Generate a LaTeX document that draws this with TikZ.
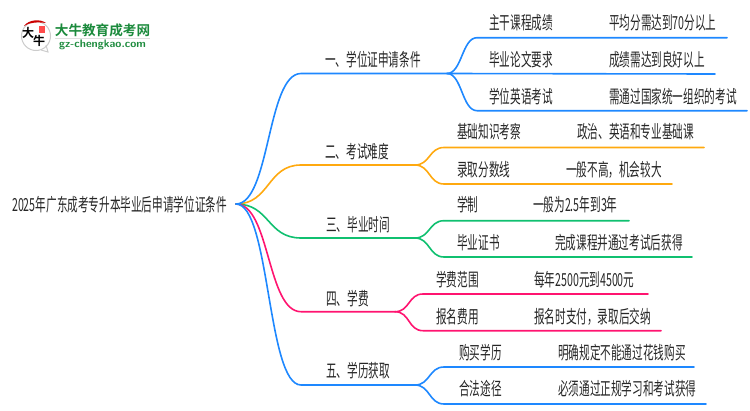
\documentclass[tikz,border=0pt]{standalone}
\usepackage{fontspec}
\setmainfont[FakeStretch=0.59]{Noto Sans CJK SC}
\newfontfamily\logofont{Noto Sans CJK SC Bold}
\newfontfamily\inkfont{Noto Sans CJK SC Bold}
\definecolor{mapblue}{HTML}{1E88FF}
\definecolor{maporange}{HTML}{FFA90F}
\definecolor{mapgreen}{HTML}{10C070}
\definecolor{mappink}{HTML}{FF1470}
\definecolor{logogreen}{HTML}{1B8A3C}
\tikzset{
  txt/.style={anchor=west,inner sep=0pt,text height=15.6pt,text depth=2pt,font=\fontsize{18}{19}\selectfont,text=black!85},
  curve/.style={to path={.. controls +(#1,0) and +(-#1,0) .. (\tikztotarget)}},
  line/.style={line width=1.6pt,line cap=round}
}
\begin{document}
\begin{tikzpicture}[x=1pt,y=-1pt]
  \useasboundingbox (0,0) rectangle (750,410);
  % logo
  \draw[black!20,line width=1pt,fill=white] (36,36) circle (14.5);
  \draw[black!20,line width=1pt] (41,50) -- (48,52) -- (46,45);
  \fill[red!80!black] (24,26) .. controls (29,19) and (41,19) .. (46,23) .. controls (38,22) and (30,22) .. (24,26);
  \fill[red!70] (39,26) rectangle (45,33);
  \node[inner sep=0pt,font=\inkfont\fontsize{12}{12}\selectfont] (logoa) at (28,33) {大};
  \node[inner sep=0pt,font=\inkfont\fontsize{12}{12}\selectfont] (logob) at (39,41) {牛};
  \node[inner sep=0pt,font=\logofont\fontsize{13.6}{14}\selectfont,text=logogreen] (logoc) at (102.5,30) {大牛教育成考网};
  \node[inner sep=0pt,font=\sffamily\bfseries\fontsize{11}{11}\selectfont,text=logogreen] (logod) at (102.5,45) {gz-chengkao.com};
  \draw[black!12,line width=.8pt] (55,38.5) -- (150,38.5);
  % text
  \draw
    (12,205) node[txt] (root){2025年广东成考专升本毕业后申请学位证条件}
    (325,60) node[txt] (b1){一、学位证申请条件}
    (325,152) node[txt] (b2){二、考试难度}
    (326,225) node[txt] (b3){三、毕业时间}
    (326,299) node[txt] (b4){四、学费}
    (326,371) node[txt] (b5){五、学历获取}
    (489,23) node[txt] (s11){主干课程成绩}
    (489,60) node[txt] (s12){毕业论文要求}
    (489,97) node[txt] (s13){学位英语考试}
    (609,23) node[txt] (v11){平均分需达到70分以上}
    (609,60) node[txt] (v12){成绩需达到良好以上}
    (609,97) node[txt] (v13){需通过国家统一组织的考试}
    (457,132) node[txt] (s21){基础知识考察}
    (457,170) node[txt] (s22){录取分数线}
    (577,132) node[txt] (v21){政治、英语和专业基础课}
    (566,170) node[txt] (v22){一般不高，机会较大}
    (457,205) node[txt] (s31){学制}
    (457,243) node[txt] (s32){毕业证书}
    (533,205) node[txt] (v31){一般为2.5年到3年}
    (555,243) node[txt] (v32){完成课程并通过考试后获得}
    (436,280) node[txt] (s41){学费范围}
    (436,317) node[txt] (s42){报名费用}
    (534,280) node[txt] (v41){每年2500元到4500元}
    (534,317) node[txt] (v42){报名时支付，录取后交纳}
    (459,353) node[txt] (s51){购买学历}
    (459,389) node[txt] (s52){合法途径}
    (558,353) node[txt] (v51){明确规定不能通过花钱购买}
    (558,389) node[txt] (v52){必须通过正规学习和考试获得};
  % junctions and line ends
  \coordinate (r0) at (236,204);
  \coordinate (a1) at (301,73.5);
  \coordinate (h1) at (447,73.5);
  \coordinate (c11) at (477,37.7);
  \coordinate (e11) at (727,37.7);
  \coordinate (e12) at (715,74);
  \coordinate (c13) at (477,110.7);
  \coordinate (e13) at (747,110.7);
  \coordinate (a2) at (301,165);
  \coordinate (h2) at (415,165);
  \coordinate (c21) at (444,147.5);
  \coordinate (e21) at (704,147.5);
  \coordinate (c22) at (444,184);
  \coordinate (e22) at (672,184);
  \coordinate (a3) at (301,238);
  \coordinate (h3) at (415,238);
  \coordinate (c31) at (444,220.7);
  \coordinate (e31) at (629,220.7);
  \coordinate (c32) at (444,257);
  \coordinate (e32) at (692,257);
  \coordinate (a4) at (301,311.7);
  \coordinate (h4) at (395,311.7);
  \coordinate (c41) at (423,294);
  \coordinate (e41) at (648,294);
  \coordinate (c42) at (423,330.7);
  \coordinate (e42) at (661,330.7);
  \coordinate (a5) at (301,385);
  \coordinate (h5) at (415,385);
  \coordinate (c51) at (444,367);
  \coordinate (e51) at (694,367);
  \coordinate (c52) at (444,404);
  \coordinate (e52) at (706,404);
  \begin{scope}[line,maporange]
    \draw (r0) to[curve=34] (a2) -- (h2);
    \draw (h2) to[curve=15] (c21) -- (e21);
    \draw (h2) to[curve=15] (c22) -- (e22);
  \end{scope}
  \begin{scope}[line,mapgreen]
    \draw (r0) to[curve=34] (a3) -- (h3);
    \draw (h3) to[curve=15] (c31) -- (e31);
    \draw (h3) to[curve=15] (c32) -- (e32);
  \end{scope}
  \begin{scope}[line,mappink]
    \draw (r0) to[curve=34] (a4) -- (h4);
    \draw (h4) to[curve=15] (c41) -- (e41);
    \draw (h4) to[curve=15] (c42) -- (e42);
  \end{scope}
  \begin{scope}[line,mapblue]
    \draw (r0) to[curve=34] (a1) -- (h1);
    \draw (h1) to[curve=15] (c11) -- (e11);
    \draw (h1) -- (e12);
    \draw (h1) to[curve=15] (c13) -- (e13);
    \draw (r0) to[curve=34] (a5) -- (h5);
    \draw (h5) to[curve=15] (c51) -- (e51);
    \draw (h5) to[curve=15] (c52) -- (e52);
  \end{scope}
\end{tikzpicture}
\end{document}
